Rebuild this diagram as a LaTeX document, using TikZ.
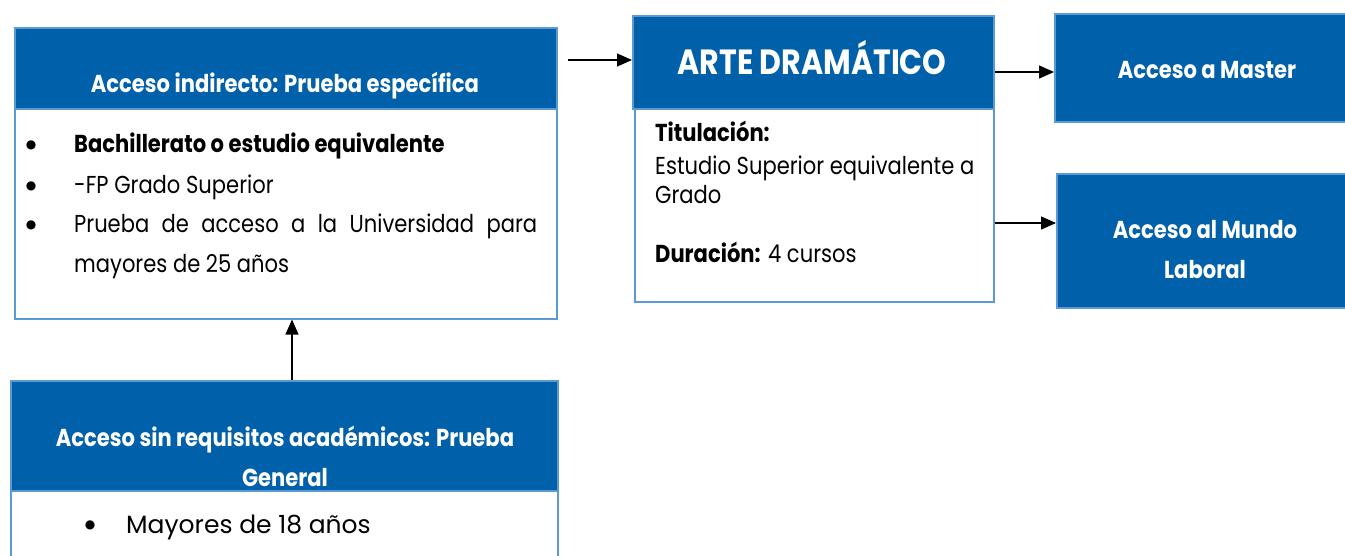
\documentclass[tikz,border=0pt]{standalone}
\usepackage{fontspec}
\setmainfont{Poppins}[FakeStretch=0.86]
\newfontfamily\widefont{Poppins}
\newfontfamily\symfont{DejaVu Sans}
\usetikzlibrary{arrows.meta}
\definecolor{hdrblue}{RGB}{0,96,170}
\definecolor{edgeblue}{RGB}{91,155,213}
\begin{document}
\begin{tikzpicture}[x=1pt,y=-1pt,
  hdr/.style={draw=edgeblue, line width=1.5pt, fill=hdrblue, anchor=north west, inner sep=0pt},
  bodybox/.style={draw=edgeblue, line width=1.5pt, fill=white, anchor=north west, inner sep=0pt},
  wtxt/.style={text=white, font=\fontsize{24.5}{28}\selectfont\bfseries, inner sep=0pt, anchor=base},
  btxt/.style={text=black, font=\fontsize{24.5}{28}\selectfont, inner sep=0pt, anchor=base west},
  bul/.style={font=\symfont\fontsize{12}{14}\selectfont, inner sep=0pt, anchor=center},
  arr/.style={line width=1.3pt, -{Triangle[length=15pt,width=13pt]}}]
\useasboundingbox (0,0) rectangle (1345,555);

% Box 1
\node[bodybox, minimum width=542pt, minimum height=210pt] (b1) at (14,108) {};
\node[hdr, minimum width=542pt, minimum height=81pt] (h1) at (14,27) {};
\node[wtxt] (t1) at (285,92) {Acceso indirecto: Prueba específica};
\node[bul] (u1) at (31,145) {●};
\node[bul] (u2) at (31,186) {●};
\node[bul] (u3) at (31,225) {●};
\node[btxt] (l1) at (74,152) {\textbf{Bachillerato o estudio equivalente}};
\node[btxt] (l2) at (74,193) {-FP Grado Superior};
\node[btxt] (l3) at (74,232) {\makebox[463pt][s]{Prueba de acceso a la Universidad para}};
\node[btxt] (l4) at (74,272) {mayores de 25 años};

% Arte dramatico
\node[bodybox, minimum width=359pt, minimum height=193pt] (artebody) at (634,108) {};
\node[hdr, minimum width=361pt, minimum height=93pt] (arte) at (632,15) {};
\node[wtxt, font=\fontsize{35}{40}\selectfont\bfseries] (tarte) at (812,74) {ARTE DRAMÁTICO};
\node[btxt] (a1) at (655,141) {\textbf{Titulación:}};
\node[btxt] (a2) at (655,174) {Estudio Superior equivalente a};
\node[btxt] (a3) at (655,203) {Grado};
\node[btxt] (a4) at (655,262) {\textbf{Duración:} 4 cursos};

% Master
\node[hdr, minimum width=300pt, minimum height=108pt] (master) at (1054,13) {};
\node[wtxt] (tm) at (1207,78) {Acceso a Master};

% Mundo laboral
\node[hdr, minimum width=300pt, minimum height=134pt] (mundo) at (1056,173) {};
\node[wtxt] (tl1) at (1205,238) {Acceso al Mundo};
\node[wtxt] (tl2) at (1205,278) {Laboral};

% Box 3
\node[bodybox, minimum width=547pt, minimum height=100pt] (b3) at (10,490) {};
\node[hdr, minimum width=547pt, minimum height=110pt] (h3) at (10,380) {};
\node[wtxt] (t31) at (285,446) {Acceso sin requisitos académicos: Prueba};
\node[wtxt] (t32) at (285,486) {General};
\node[bul] (u5) at (90,525) {●};
\node[btxt, font=\widefont\fontsize{25}{29}\selectfont] (l5) at (126,533) {Mayores de 18 años};

% Connectors
\coordinate (in1) at (568,60);
\draw[arr] (in1) -- (arte.west |- in1);
\draw[arr] (arte.east |- 0,72) -- (master.west |- 0,72);
\draw[arr] (artebody.east |- 0,223) -- (mundo.west |- 0,223);
\draw[arr] (h3.north -| 292,0) -- (b1.south -| 292,0);
\end{tikzpicture}
\end{document}
